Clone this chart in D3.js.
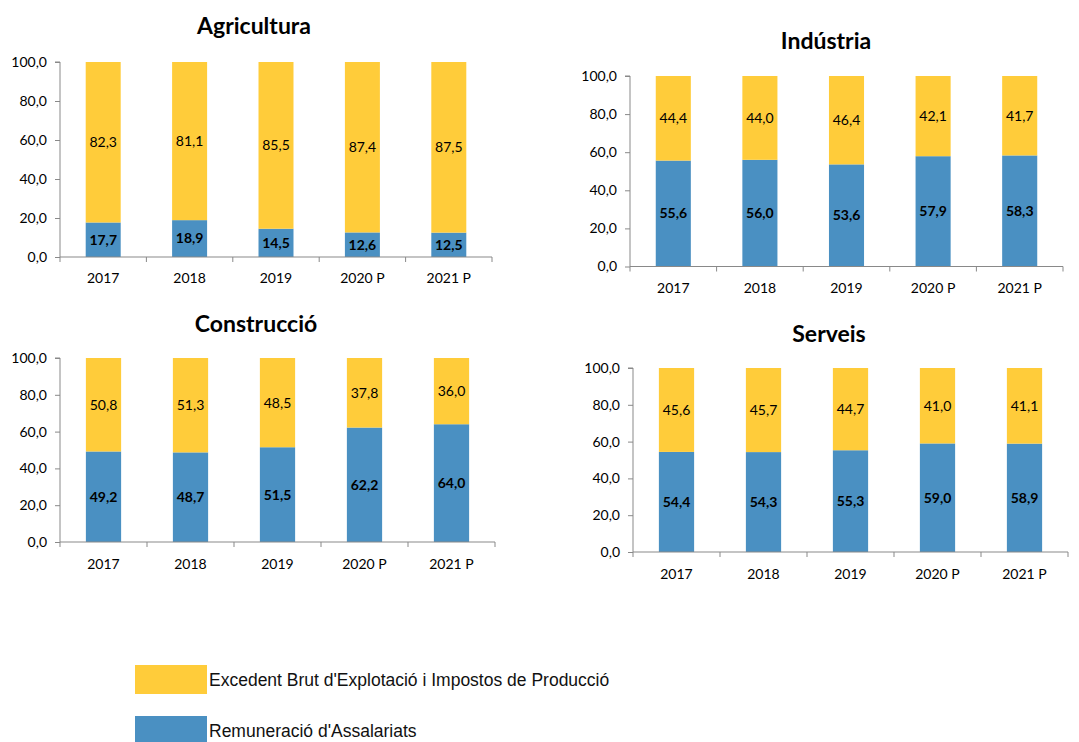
<!DOCTYPE html>
<html>
<head>
<meta charset="utf-8">
<script src="https://cdn.jsdelivr.net/npm/d3@7"></script>
<style>
  html, body { margin: 0; padding: 0; background: #fff; }
  svg { display: block; }
  .tick text { font-family: Lato, "Noto Sans", sans-serif; }
</style>
</head>
<body>
<svg id="chart" width="1079" height="742"></svg>
<script>
// ---------- DATA ----------
const years = ["2017", "2018", "2019", "2020 P", "2021 P"];
const yTicks = [0, 20, 40, 60, 80, 100];
const seriesNames = ["Excedent Brut d'Explotació i Impostos de Producció", "Remuneració d'Assalariats"];

const panelTitles = ["Agricultura", "Indústria", "Construcció", "Serveis"];

const agriculturaRemuneracio = [17.7, 18.9, 14.5, 12.6, 12.5];
const agriculturaExcedent    = [82.3, 81.1, 85.5, 87.4, 87.5];

const industriaRemuneracio = [55.6, 56.0, 53.6, 57.9, 58.3];
const industriaExcedent    = [44.4, 44.0, 46.4, 42.1, 41.7];

const construccioRemuneracio = [49.2, 48.7, 51.5, 62.2, 64.0];
const construccioExcedent    = [50.8, 51.3, 48.5, 37.8, 36.0];

const serveisRemuneracio = [54.4, 54.3, 55.3, 59.0, 58.9];
const serveisExcedent    = [45.6, 45.7, 44.7, 41.0, 41.1];

// ---------- STYLE / LAYOUT ----------
const COL_EXC = "#FFCC3A";
const COL_REM = "#4A90C2";
const AXIS_COL = "#898989";
const FONT = "Lato, 'Noto Sans', sans-serif";

const layout = [
  { x0: 60,  x1: 492,  yTop: 62,  yBot: 257,   titleX: 254, titleY: 34,  labY: 283 },
  { x0: 630, x1: 1063, yTop: 76,  yBot: 266.5, titleX: 826, titleY: 49,  labY: 293 },
  { x0: 60,  x1: 495,  yTop: 358, yBot: 542,   titleX: 256, titleY: 332, labY: 569 },
  { x0: 633, x1: 1068, yTop: 368, yBot: 552,   titleX: 829, titleY: 342, labY: 579 }
];

const panelData = [
  { rem: agriculturaRemuneracio, exc: agriculturaExcedent },
  { rem: industriaRemuneracio,   exc: industriaExcedent },
  { rem: construccioRemuneracio, exc: construccioExcedent },
  { rem: serveisRemuneracio,     exc: serveisExcedent }
];

const svg = d3.select("#chart");
const fmt = v => v.toFixed(1).replace(".", ",");

panelData.forEach((pd, i) => {
  const L = layout[i];
  const g = svg.append("g");

  const x = d3.scaleBand().domain(years).range([L.x0, L.x1]).paddingInner(0).paddingOuter(0);
  const y = d3.scaleLinear().domain([0, 100]).range([L.yBot, L.yTop]);
  const bw = x.bandwidth() * 0.405;
  const off = (x.bandwidth() - bw) / 2;

  const rows = years.map((yr, k) => ({ yr, rem: pd.rem[k], exc: pd.exc[k] }));

  // bars: remuneració (bottom)
  g.selectAll("rect.rem").data(rows).enter().append("rect")
    .attr("class", "rem")
    .attr("x", d => x(d.yr) + off)
    .attr("width", bw)
    .attr("y", d => y(d.rem))
    .attr("height", d => y(0) - y(d.rem))
    .attr("fill", COL_REM);

  // bars: excedent (top)
  g.selectAll("rect.exc").data(rows).enter().append("rect")
    .attr("class", "exc")
    .attr("x", d => x(d.yr) + off)
    .attr("width", bw)
    .attr("y", d => y(d.rem + d.exc))
    .attr("height", d => y(d.rem) - y(d.rem + d.exc))
    .attr("fill", COL_EXC);

  // value labels
  g.selectAll("text.vrem").data(rows).enter().append("text")
    .attr("x", d => x(d.yr) + x.bandwidth() / 2)
    .attr("y", d => y(d.rem / 2))
    .attr("dy", "0.35em")
    .attr("text-anchor", "middle")
    .attr("font-family", FONT)
    .attr("font-weight", "bold")
    .attr("font-size", 14)
    .attr("fill", "#000")
    .text(d => fmt(d.rem));

  g.selectAll("text.vexc").data(rows).enter().append("text")
    .attr("x", d => x(d.yr) + x.bandwidth() / 2)
    .attr("y", d => y(d.rem + d.exc / 2))
    .attr("dy", "0.35em")
    .attr("text-anchor", "middle")
    .attr("font-family", FONT)
    .attr("font-size", 14)
    .attr("fill", "#000")
    .text(d => fmt(d.exc));

  // y axis
  const yAxis = d3.axisLeft(y).tickValues(yTicks).tickSize(5).tickPadding(8).tickFormat(fmt);
  const ya = g.append("g").attr("transform", `translate(${L.x0},0)`).call(yAxis);
  ya.select(".domain").attr("stroke", AXIS_COL).attr("d", `M-5,${L.yTop}H0V${L.yBot}`);
  ya.selectAll(".tick line").attr("stroke", AXIS_COL);
  ya.selectAll(".tick text").attr("font-size", 14).attr("fill", "#000").attr("font-family", FONT);

  // x axis
  const xa = g.append("g").attr("transform", `translate(0,${L.yBot})`);
  xa.append("line").attr("x1", L.x0).attr("x2", L.x1).attr("y1", 0).attr("y2", 0)
    .attr("stroke", AXIS_COL);
  const edges = years.map(yr => x(yr)).concat([L.x1]);
  xa.selectAll("line.t").data(edges).enter().append("line")
    .attr("x1", d => d).attr("x2", d => d).attr("y1", 0).attr("y2", 5)
    .attr("stroke", AXIS_COL);
  xa.selectAll("text").data(years).enter().append("text")
    .attr("x", d => x(d) + x.bandwidth() / 2)
    .attr("y", L.labY - L.yBot)
    .attr("text-anchor", "middle")
    .attr("font-family", FONT)
    .attr("font-size", 14)
    .attr("fill", "#000")
    .text(d => d);

  // title
  g.append("text")
    .attr("x", L.titleX).attr("y", L.titleY)
    .attr("text-anchor", "middle")
    .attr("font-family", FONT)
    .attr("font-weight", "bold")
    .attr("font-size", 23)
    .attr("fill", "#000")
    .text(panelTitles[i]);
});

// legend
const legend = svg.append("g");
const legCols = [COL_EXC, COL_REM];
const legY = [665, 716];
seriesNames.forEach((name, k) => {
  legend.append("rect")
    .attr("x", 135).attr("y", legY[k]).attr("width", 72).attr("height", 29)
    .attr("fill", legCols[k]);
  legend.append("text")
    .attr("x", 209).attr("y", legY[k] + 14.5)
    .attr("dy", "0.36em")
    .attr("font-family", "'Liberation Sans', Arial, sans-serif")
    .attr("font-size", 17.5)
    .attr("fill", "#111")
    .text(name);
});
</script>
</body>
</html>
